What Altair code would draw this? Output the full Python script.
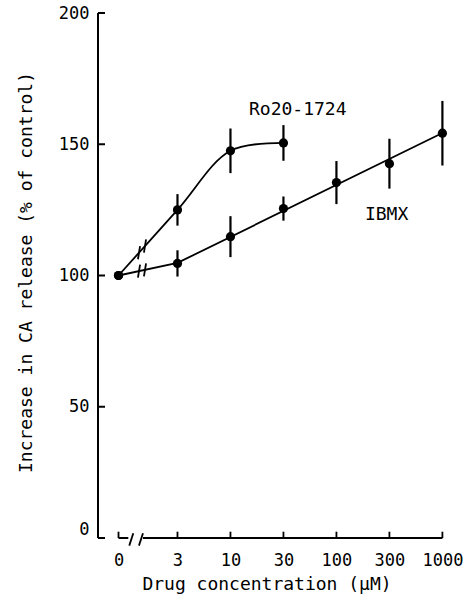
import json
import numpy as np
import pandas as pd
import altair as alt

# Drug concentrations (uM) shown on an evenly spaced log ladder with a break after 0
conc_labels = ["0", "3", "10", "30", "100", "300", "1000"]
ladder = [3, 10, 30, 100, 300, 1000]

# Ro20-1724: mean CA release (% of control) and error half-widths
ro_conc = [0, 3, 10, 30]
ro_mean = [100, 125, 147.5, 150.5]
ro_err = [0, 6, 8.5, 6.8]

# IBMX: mean CA release (% of control) and error half-widths
ibmx_conc = [0, 3, 10, 30, 100, 300, 1000]
ibmx_mean = [100, 104.6, 114.8, 125.5, 135.4, 142.6, 154.2]
ibmx_err = [0, 5, 7.8, 4.6, 8.2, 9.5, 12.3]

# straight trend line drawn for IBMX
ibmx_fit_conc = [0, 3, 1000]
ibmx_fit = [100, 104.8, 154.3]

y_ticks = [0, 50, 100, 150, 200]

# axis slot of the zero dose, left of the break
ZERO_SLOT = -1.113
BLACK = "#000000"
FONT = "DejaVu Sans Mono"


def slot(c):
    return ZERO_SLOT if c == 0 else ladder.index(c)


tick_slots = [slot(0)] + [slot(c) for c in ladder]

ro = pd.DataFrame({"s": [slot(c) for c in ro_conc], "m": ro_mean, "e": ro_err})
ib = pd.DataFrame({"s": [slot(c) for c in ibmx_conc], "m": ibmx_mean, "e": ibmx_err})
for d in (ro, ib):
    d["lo"] = d["m"] - d["e"]
    d["hi"] = d["m"] + d["e"]
pts = pd.concat([ro, ib], ignore_index=True)
bars = pts[pts["e"] > 0]
ib_fit = pd.DataFrame({"s": [slot(c) for c in ibmx_fit_conc], "m": ibmx_fit})

xs = alt.Scale(domain=[-1.5, 5.2], nice=False, zero=False)
ys = alt.Scale(domain=[0, 200], nice=False, zero=True)

label_expr = "datum.value < -1 ? '0' : " + json.dumps(conc_labels[1:]) + "[round(datum.value)]"

x_axis = alt.Axis(
    values=tick_slots, labelExpr=label_expr, grid=False, ticks=False, domain=False,
    labelFont=FONT, labelFontSize=17, labelColor=BLACK, labelPadding=14,
    labelBaseline="top", labelAlign="center",
    title="Drug concentration (\u00b5M)", titleFont=FONT, titleFontSize=18,
    titleFontWeight="normal", titleColor=BLACK, titleX=168.5, titleY=46,
    titleAnchor="start", titleAlign="center", titleBaseline="middle",
)
y_axis = alt.Axis(
    values=y_ticks, grid=False, ticks=False, domain=False,
    labelFont=FONT, labelFontSize=17, labelColor=BLACK, labelPadding=9,
    labelBaseline=alt.condition("datum.value == 0", alt.value("bottom"), alt.value("middle")),
    title="Increase in CA release (% of control)", titleFont=FONT, titleFontSize=18,
    titleFontWeight="normal", titleColor=BLACK, titleX=-71.4, titleY=259,
    titleAngle=-90, titleAlign="center", titleBaseline="middle",
)


def X(f="s"):
    return alt.X(f"{f}:Q", scale=xs, axis=x_axis)


def Y(f="m"):
    return alt.Y(f"{f}:Q", scale=ys, axis=y_axis)


# frame: y axis line with inward ticks
y_line = alt.Chart(pd.DataFrame({"a": [0], "b": [200]})).mark_rule(
    color=BLACK, strokeWidth=2).encode(x=alt.value(0), y=Y("a"), y2="b:Q")
y_tick_marks = alt.Chart(pd.DataFrame({"t": y_ticks})).mark_rule(
    color=BLACK, strokeWidth=2).encode(x=alt.value(0), x2=alt.value(7), y=Y("t"))

# broken x axis: short stub at zero, then the log ladder
x_segs = pd.DataFrame({"a": [ZERO_SLOT, -0.651], "b": [-0.928, slot(1000)], "y": [0, 0]})
x_line = alt.Chart(x_segs).mark_rule(color=BLACK, strokeWidth=2).encode(
    x=X("a"), x2="b:Q", y=Y("y"))
x_tick_marks = alt.Chart(pd.DataFrame({"s": tick_slots, "a": 0.0, "b": 2.4})).mark_rule(
    color=BLACK, strokeWidth=1.8).encode(x=X(), y=Y("a"), y2="b:Q")
slash_c = [-0.872, -0.689]
x_slash = alt.Chart(pd.DataFrame({
    "a": [c - 0.038 for c in slash_c], "b": [c + 0.038 for c in slash_c],
    "y0": [-2.9] * 2, "y1": [1.8] * 2})).mark_rule(color=BLACK, strokeWidth=1.8).encode(
    x=X("a"), x2="b:Q", y=Y("y0"), y2="y1:Q")

# break marks across both curves
brk_s = [-0.726, -0.613]
brk_rows = []
for s in brk_s:
    for cs, cm in ((ro["s"], ro["m"]), (ib_fit["s"], ib_fit["m"])):
        c = float(np.interp(s, cs, cm))
        brk_rows.append({"a": s - 0.02, "b": s + 0.02, "y0": c - 2.5, "y1": c + 2.5})
line_breaks = alt.Chart(pd.DataFrame(brk_rows)).mark_rule(color=BLACK, strokeWidth=1.8).encode(
    x=X("a"), x2="b:Q", y=Y("y0"), y2="y1:Q")

ro_curve = alt.Chart(ro).mark_line(color=BLACK, strokeWidth=1.8, interpolate="catmull-rom").encode(x=X(), y=Y())
ib_line = alt.Chart(ib_fit).mark_line(color=BLACK, strokeWidth=1.8).encode(x=X(), y=Y())

err = alt.Chart(bars).mark_rule(color=BLACK, strokeWidth=2.2).encode(
    x=X(), y=Y("lo"), y2="hi:Q")

dots = alt.Chart(pts).mark_circle(color=BLACK, opacity=1, size=85).encode(x=X(), y=Y())

names = pd.DataFrame({"s": [1.349, 3.538], "m": [163, 123], "t": ["Ro20-1724", "IBMX"]})
name_text = alt.Chart(names).mark_text(
    font=FONT, fontSize=18, color=BLACK, align="left", baseline="middle").encode(x=X(), y=Y(), text="t:N")

chart = alt.layer(
    dots, y_line, y_tick_marks, x_line, x_tick_marks, x_slash,
    ro_curve, ib_line, line_breaks, err, name_text,
).properties(
    width=355, height=525,
    autosize=alt.AutoSizeParams(type="none"),
    padding={"left": 98, "top": 13, "right": 22, "bottom": 60},
    background="white",
).configure_view(stroke=None)

chart.save("out.html", embed_options={"renderer": "svg", "actions": False})
